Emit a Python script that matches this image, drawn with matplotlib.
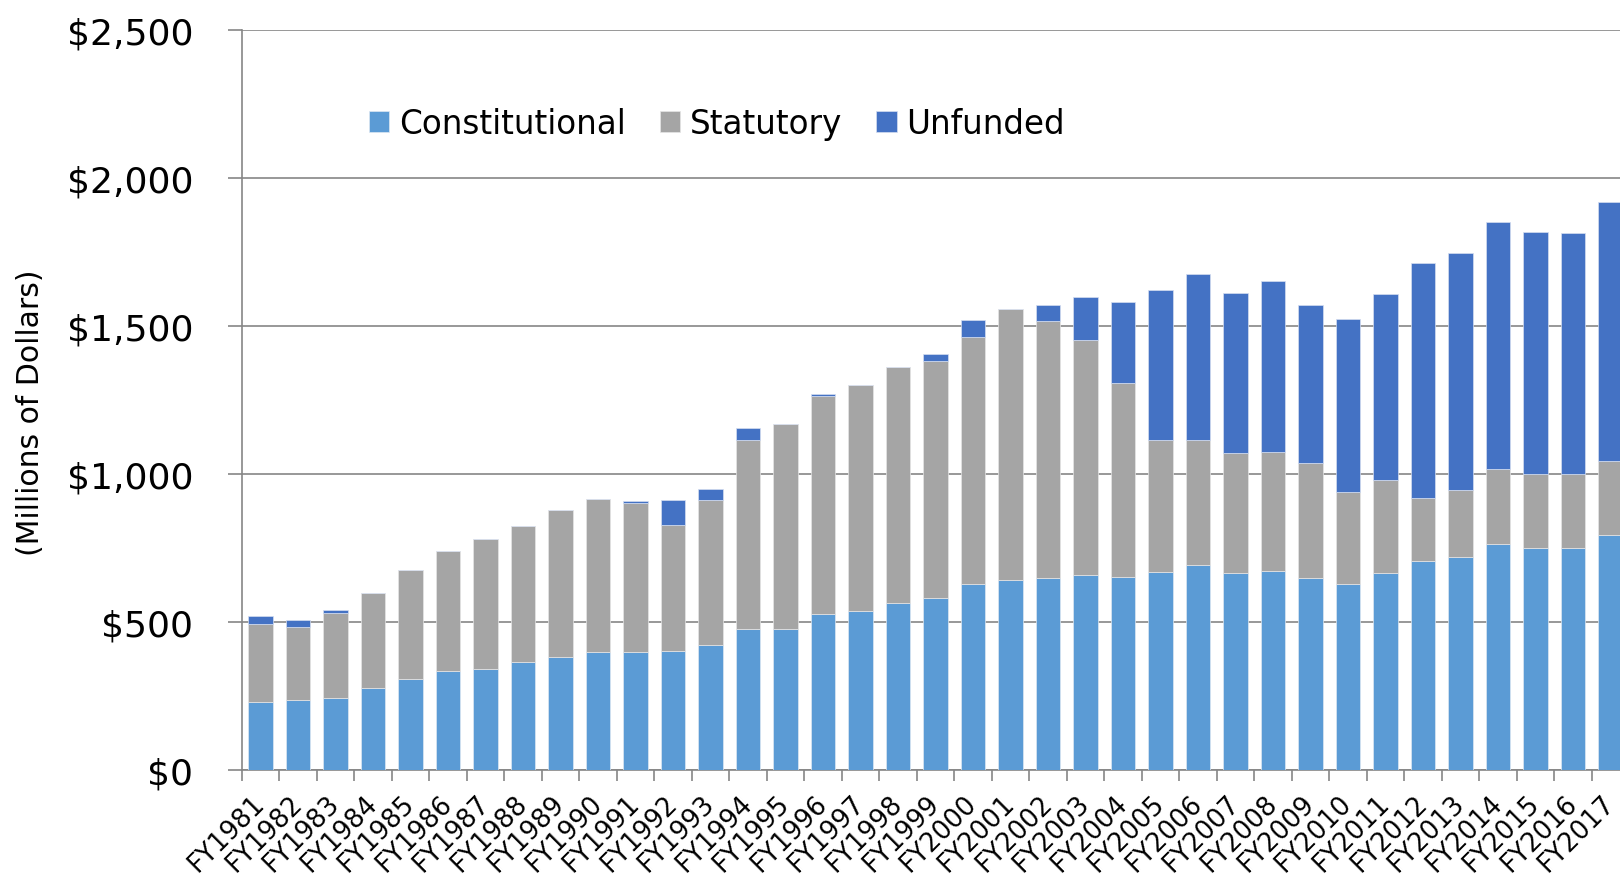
import numpy as np
import matplotlib
matplotlib.use("Agg")
import matplotlib.pyplot as plt

# Values in millions of dollars
years = ['FY1981', 'FY1982', 'FY1983', 'FY1984', 'FY1985', 'FY1986', 'FY1987',
         'FY1988', 'FY1989', 'FY1990', 'FY1991', 'FY1992', 'FY1993', 'FY1994',
         'FY1995', 'FY1996', 'FY1997', 'FY1998', 'FY1999', 'FY2000', 'FY2001',
         'FY2002', 'FY2003', 'FY2004', 'FY2005', 'FY2006', 'FY2007', 'FY2008',
         'FY2009', 'FY2010', 'FY2011', 'FY2012', 'FY2013', 'FY2014', 'FY2015',
         'FY2016', 'FY2017']

constitutional = [228, 235, 243, 275, 306, 333, 342, 365, 381, 397, 397, 403, 422,
                  476, 477, 526, 537, 562, 579, 627, 641, 649, 659, 653, 670, 691,
                  664, 673, 649, 628, 664, 706, 720, 762, 748, 748, 792]
statutory = [265, 247, 287, 324, 368, 406, 437, 458, 497, 518, 504, 424, 491,
             637, 692, 737, 765, 798, 803, 836, 916, 869, 792, 653, 446, 425,
             407, 401, 388, 312, 316, 211, 227, 253, 251, 251, 251]
unfunded = [28, 25, 10, 0, 0, 0, 0, 0, 0, 0, 8, 86, 37,
            43, 0, 7, 0, 0, 22, 58, 0, 52, 147, 274, 506, 560,
            541, 577, 533, 582, 628, 796, 801, 835, 817, 815, 876]

yticks = [0, 500, 1000, 1500, 2000, 2500]
ytick_labels = ['$0', '$500', '$1,000', '$1,500', '$2,000', '$2,500']

c_const = '#5B9BD5'
c_stat = '#A5A5A5'
c_unf = '#4472C4'
grid_col = '#868686'

fig = plt.figure(figsize=(16.2, 8.79), dpi=100)
ax = fig.add_axes([0.1493, 0.1231, 1 - 0.1493, 0.8416])

x = np.arange(len(years))
const = np.array(constitutional)
stat = np.array(statutory)
unf = np.array(unfunded)

w = 0.655
ax.bar(x, const, w, color=c_const, edgecolor='#dde8f3', linewidth=0.5, label='Constitutional', zorder=3)
ax.bar(x, stat, w, bottom=const, color=c_stat, edgecolor='#e6e6e6', linewidth=0.5, label='Statutory', zorder=3)
ax.bar(x, unf, w, bottom=const + stat, color=c_unf, edgecolor='#d5def0', linewidth=0.5, label='Unfunded', zorder=3)

ax.set_ylim(0, 2500)
ax.set_xlim(-0.5, 36.25)

ax.set_yticks(yticks)
ax.set_yticklabels(ytick_labels, fontsize=26)
ax.tick_params(axis='y', length=10, width=1.2, color=grid_col, pad=25)
ax.yaxis.grid(True, color=grid_col, linewidth=1.2, zorder=0)
ax.set_axisbelow(True)

# labels at bar centres, tick marks at category boundaries
ax.set_xticks(x)
ax.set_xticklabels(years, rotation=45, ha='right', va='center',
                   rotation_mode='anchor', fontsize=18.5)
ax.tick_params(axis='x', which='major', length=0, pad=21)
ax.set_xticks(np.arange(-0.5, 36.5, 1.0), minor=True)
ax.tick_params(axis='x', which='minor', length=8, width=1.2, color=grid_col)

for s in ['top', 'right']:
    ax.spines[s].set_visible(False)
for s in ['left', 'bottom']:
    ax.spines[s].set_color(grid_col)
    ax.spines[s].set_linewidth(1.2)

fig.text(0.019, 0.53, '(Millions of Dollars)', rotation=90, fontsize=21.5,
         ha='center', va='center')

fig.legend(loc='center', bbox_to_anchor=(0.4426, 0.858), ncol=3, frameon=False,
           fontsize=23.5, handlelength=0.62, handleheight=0.62, handletextpad=0.3,
           columnspacing=1.05)

fig.savefig('out.png', dpi=100)
